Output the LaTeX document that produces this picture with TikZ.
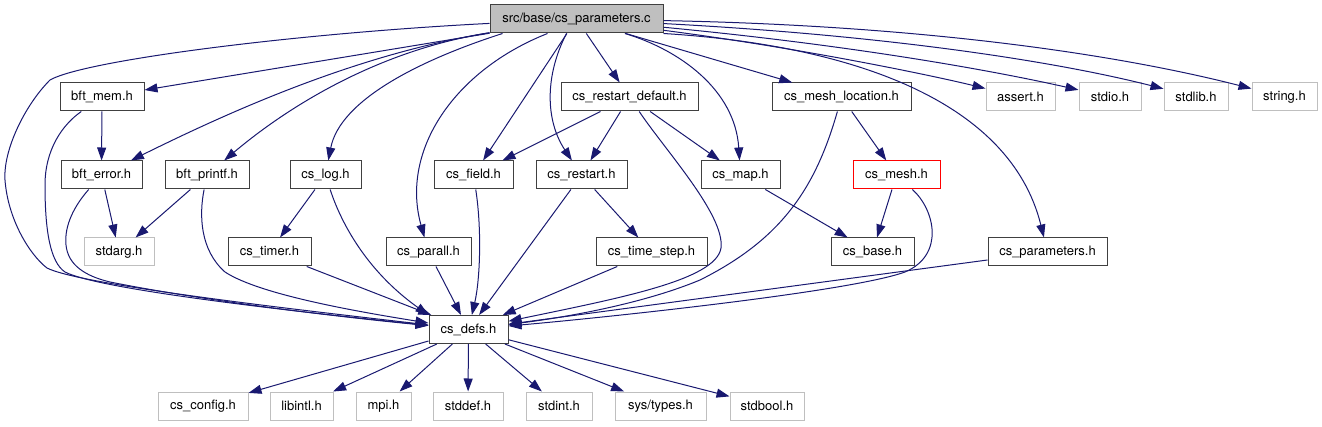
\documentclass[tikz,border=0pt]{standalone}
\usepackage{fontspec}
\setmainfont{TeX Gyre Heros}
\usetikzlibrary{arrows.meta}
\definecolor{edgec}{HTML}{191970}
\definecolor{boxc}{HTML}{404040}
\definecolor{grayc}{HTML}{BFBFBF}
\begin{document}
\begin{tikzpicture}[x=1pt,y=-1pt,
  every node/.style={font=\fontsize{13}{15}\selectfont, inner sep=0pt, minimum height=28pt, line width=1pt},
  proj/.style={draw=boxc},
  sys/.style={draw=grayc},
  redbox/.style={draw=red},
  rootbox/.style={draw=boxc, fill=grayc},
  conn/.style={draw=edgec, line width=1pt, -{Triangle[length=13pt,width=9pt]}}
]
\useasboundingbox (0,0) rectangle (1322,427);
% nodes
\node[rootbox, minimum width=173pt] (root) at (576.5,19) {src/base/cs\_parameters.c};
\node[proj, minimum width=84pt] (bftmem) at (102,97) {bft\_mem.h};
\node[proj, minimum width=137pt] (rdef) at (629.5,97) {cs\_restart\_default.h};
\node[proj, minimum width=139pt] (meshloc) at (841.5,97) {cs\_mesh\_location.h};
\node[sys, minimum width=69pt] (assert) at (1020.5,97) {assert.h};
\node[sys, minimum width=62pt] (stdio) at (1110,97) {stdio.h};
\node[sys, minimum width=64pt] (stdlib) at (1196,97) {stdlib.h};
\node[sys, minimum width=65pt] (string) at (1284.5,97) {string.h};
\node[proj, minimum width=81pt] (bfterror) at (101.5,175) {bft\_error.h};
\node[proj, minimum width=84pt] (bftprintf) at (207,175) {bft\_printf.h};
\node[proj, minimum width=71pt] (cslog) at (325.5,175) {cs\_log.h};
\node[proj, minimum width=79pt] (csfield) at (473.5,175) {cs\_field.h};
\node[proj, minimum width=91pt] (csrestart) at (581.5,175) {cs\_restart.h};
\node[proj, minimum width=79pt] (csmap) at (740.5,175) {cs\_map.h};
\node[redbox, minimum width=87pt] (csmesh) at (896.5,175) {cs\_mesh.h};
\node[sys, minimum width=70pt] (stdarg) at (119,252) {stdarg.h};
\node[proj, minimum width=83pt] (cstimer) at (269.5,252) {cs\_timer.h};
\node[proj, minimum width=85pt] (csparall) at (428.5,252) {cs\_parall.h};
\node[proj, minimum width=111pt] (timestep) at (651.5,252) {cs\_time\_step.h};
\node[proj, minimum width=83pt] (csbase) at (872.5,252) {cs\_base.h};
\node[proj, minimum width=119pt] (csparams) at (1047.5,252) {cs\_parameters.h};
\node[proj, minimum width=79pt] (csdefs) at (468.5,329.5) {cs\_defs.h};
\node[sys, minimum width=90pt] (csconfig) at (203,406) {cs\_config.h};
\node[sys, minimum width=63pt] (libintl) at (301.5,406) {libintl.h};
\node[sys, minimum width=55pt] (mpi) at (383.5,406) {mpi.h};
\node[sys, minimum width=70pt] (stddef) at (468,406) {stddef.h};
\node[sys, minimum width=66pt] (stdint) at (559,406) {stdint.h};
\node[sys, minimum width=91pt] (systypes) at (660.5,406) {sys/types.h};
\node[sys, minimum width=74pt] (stdbool) at (767,406) {stdbool.h};
% edges from root
\draw[conn] (root) .. controls (300,33) and (85,60) .. (50,80) .. controls (25,105) and (3,150) .. (5,180) .. controls (8,220) and (30,255) .. (47,268) .. controls (80,285) and (300,310) .. (csdefs);
\draw[conn] (root) -- (bftmem);
\draw[conn] (root) .. controls (350,55) and (215,119) .. (bfterror);
\draw[conn] (root) .. controls (380,50) and (290,105) .. (bftprintf);
\draw[conn] ([xshift=13pt]root.south west) .. controls (420,60) and (340,100) .. (cslog);
\draw[conn] ([xshift=58pt]root.south west) .. controls (455,70) and (400,150) .. (csparall);
\draw[conn] (root) -- (csfield);
\draw[conn] ([xshift=77pt]root.south west) .. controls (545,75) and (545,120) .. (csrestart);
\draw[conn] (root) -- (rdef);
\draw[conn] (root) .. controls (680,50) and (735,90) .. (csmap);
\draw[conn] (root) -- (meshloc);
\draw[conn] (root.south east) .. controls (850,45) and (1010,100) .. (csparams);
\draw[conn] (root) .. controls (800,48) and (930,75) .. (assert);
\draw[conn] (root) .. controls (850,45) and (990,70) .. (stdio);
\draw[conn] (root) .. controls (880,35) and (1050,60) .. (stdlib);
\draw[conn] (root) .. controls (900,25) and (1100,50) .. (string);
% second level
\draw[conn] (bftmem) -- (bfterror);
\draw[conn] (bftmem) .. controls (62,125) and (45,150) .. (45,185) .. controls (45,230) and (50,262) .. (65,272) .. controls (100,290) and (300,312) .. (csdefs);
\draw[conn] (bfterror) -- (stdarg);
\draw[conn] (bfterror) .. controls (75,205) and (64,225) .. (66,245) .. controls (68,265) and (85,276) .. (110,282) .. controls (200,300) and (330,316) .. (csdefs);
\draw[conn] (bftprintf) -- (stdarg);
\draw[conn] (bftprintf) .. controls (199,215) and (200,250) .. (225,272) .. controls (260,295) and (360,312) .. (csdefs);
\draw[conn] (cslog) -- (cstimer);
\draw[conn] (cslog) .. controls (340,220) and (365,270) .. (csdefs.north west);
\draw[conn] (cstimer) -- (csdefs);
\draw[conn] (csparall) -- (csdefs);
\draw[conn] (csfield) .. controls (482,230) and (480,280) .. (csdefs);
\draw[conn] (csrestart) -- (timestep);
\draw[conn] (csrestart) -- (csdefs);
\draw[conn] (timestep) -- (csdefs);
\draw[conn] (rdef) -- (csfield);
\draw[conn] (rdef) -- (csrestart);
\draw[conn] (rdef) -- (csmap);
\draw[conn] (rdef) .. controls (665,150) and (725,215) .. (721,248) .. controls (716,280) and (620,298) .. (csdefs);
\draw[conn] (csmap) -- (csbase);
\draw[conn] (meshloc) -- (csmesh);
\draw[conn] (meshloc) .. controls (815,190) and (780,240) .. (700,280) .. controls (640,305) and (560,318) .. (csdefs);
\draw[conn] (csmesh) -- (csbase);
\draw[conn] (csmesh) .. controls (935,210) and (945,255) .. (905,272) .. controls (850,292) and (600,318) .. (csdefs);
\draw[conn] (csparams) -- (csdefs);
% cs_defs children
\draw[conn] (csdefs) -- (csconfig);
\draw[conn] (csdefs) -- (libintl);
\draw[conn] (csdefs) -- (mpi);
\draw[conn] (csdefs) -- (stddef);
\draw[conn] (csdefs) -- (stdint);
\draw[conn] (csdefs) -- (systypes);
\draw[conn] (csdefs) -- (stdbool);
\end{tikzpicture}
\end{document}
